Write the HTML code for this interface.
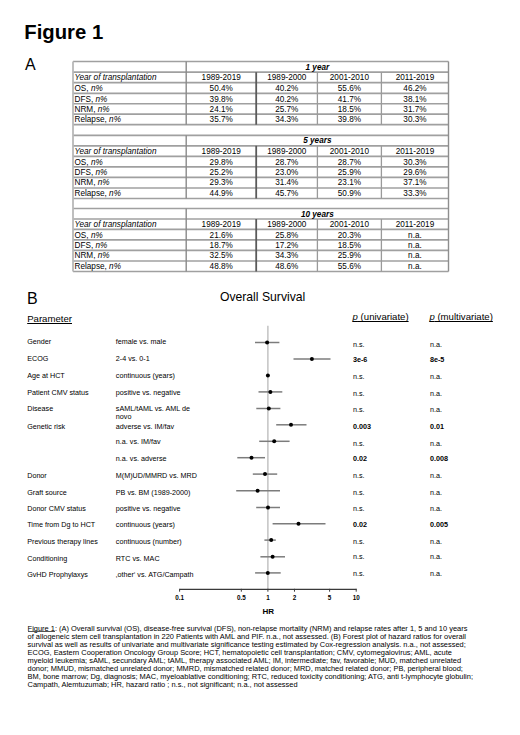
<!DOCTYPE html>
<html><head><meta charset="utf-8"><style>
html,body{margin:0;padding:0;background:#fff;}
body{width:520px;height:735px;position:relative;overflow:hidden;font-family:"Liberation Sans", sans-serif;color:#000;}
.t{position:absolute;white-space:nowrap;}
.t{text-decoration-skip-ink:none;}
</style></head><body>
<div class="t" style="left:24.30px;top:22.016px;font-size:20.3px;line-height:20.3px;font-weight:bold;">Figure 1</div>
<div class="t" style="left:25.00px;top:57.006px;font-size:16px;line-height:16px;">A</div>
<svg style="position:absolute;left:0;top:0" width="520" height="300" viewBox="0 0 520 300"><line x1="73.00" y1="61.50" x2="448.50" y2="61.50" stroke="#a0a0a0" stroke-width="1.7"/><line x1="73.00" y1="72.20" x2="448.50" y2="72.20" stroke="#a0a0a0" stroke-width="1.7"/><line x1="73.00" y1="82.70" x2="448.50" y2="82.70" stroke="#a0a0a0" stroke-width="1.7"/><line x1="73.00" y1="93.40" x2="448.50" y2="93.40" stroke="#a0a0a0" stroke-width="1.7"/><line x1="73.00" y1="103.75" x2="448.50" y2="103.75" stroke="#a0a0a0" stroke-width="1.7"/><line x1="73.00" y1="114.20" x2="448.50" y2="114.20" stroke="#a0a0a0" stroke-width="1.7"/><line x1="73.00" y1="124.70" x2="448.50" y2="124.70" stroke="#a0a0a0" stroke-width="1.7"/><line x1="73.00" y1="135.30" x2="448.50" y2="135.30" stroke="#a0a0a0" stroke-width="1.7"/><line x1="73.00" y1="145.80" x2="448.50" y2="145.80" stroke="#a0a0a0" stroke-width="1.7"/><line x1="73.00" y1="156.40" x2="448.50" y2="156.40" stroke="#a0a0a0" stroke-width="1.7"/><line x1="73.00" y1="166.90" x2="448.50" y2="166.90" stroke="#a0a0a0" stroke-width="1.7"/><line x1="73.00" y1="177.30" x2="448.50" y2="177.30" stroke="#a0a0a0" stroke-width="1.7"/><line x1="73.00" y1="188.00" x2="448.50" y2="188.00" stroke="#a0a0a0" stroke-width="1.7"/><line x1="73.00" y1="198.50" x2="448.50" y2="198.50" stroke="#a0a0a0" stroke-width="1.7"/><line x1="73.00" y1="208.50" x2="448.50" y2="208.50" stroke="#a0a0a0" stroke-width="1.7"/><line x1="73.00" y1="219.00" x2="448.50" y2="219.00" stroke="#a0a0a0" stroke-width="1.7"/><line x1="73.00" y1="229.40" x2="448.50" y2="229.40" stroke="#a0a0a0" stroke-width="1.7"/><line x1="73.00" y1="239.90" x2="448.50" y2="239.90" stroke="#a0a0a0" stroke-width="1.7"/><line x1="73.00" y1="250.30" x2="448.50" y2="250.30" stroke="#a0a0a0" stroke-width="1.7"/><line x1="73.00" y1="261.00" x2="448.50" y2="261.00" stroke="#a0a0a0" stroke-width="1.7"/><line x1="73.00" y1="271.50" x2="448.50" y2="271.50" stroke="#a0a0a0" stroke-width="1.7"/><line x1="73.00" y1="61.50" x2="73.00" y2="271.50" stroke="#b8b8b8" stroke-width="1.8"/><line x1="448.50" y1="61.50" x2="448.50" y2="271.50" stroke="#8e8e8e" stroke-width="1.4"/><line x1="186.20" y1="61.50" x2="186.20" y2="124.70" stroke="#8a8a8a" stroke-width="1.4"/><line x1="256.20" y1="72.20" x2="256.20" y2="124.70" stroke="#5a5a5a" stroke-width="1.8"/><line x1="317.40" y1="72.20" x2="317.40" y2="124.70" stroke="#9a9a9a" stroke-width="1.3"/><line x1="381.40" y1="72.20" x2="381.40" y2="124.70" stroke="#9a9a9a" stroke-width="1.3"/><line x1="186.20" y1="135.30" x2="186.20" y2="198.50" stroke="#8a8a8a" stroke-width="1.4"/><line x1="256.20" y1="145.80" x2="256.20" y2="198.50" stroke="#5a5a5a" stroke-width="1.8"/><line x1="317.40" y1="145.80" x2="317.40" y2="198.50" stroke="#9a9a9a" stroke-width="1.3"/><line x1="381.40" y1="145.80" x2="381.40" y2="198.50" stroke="#9a9a9a" stroke-width="1.3"/><line x1="186.20" y1="208.50" x2="186.20" y2="271.50" stroke="#8a8a8a" stroke-width="1.4"/><line x1="256.20" y1="219.00" x2="256.20" y2="271.50" stroke="#5a5a5a" stroke-width="1.8"/><line x1="317.40" y1="219.00" x2="317.40" y2="271.50" stroke="#9a9a9a" stroke-width="1.3"/><line x1="381.40" y1="219.00" x2="381.40" y2="271.50" stroke="#9a9a9a" stroke-width="1.3"/></svg>
<div class="t" style="left:217.35px;width:200px;text-align:center;top:64.009px;font-size:8.2px;line-height:8.2px;font-weight:bold;font-style:italic;">1 year</div>
<div class="t" style="left:74.50px;top:74.009px;font-size:8.2px;line-height:8.2px;font-style:italic;">Year of transplantation</div>
<div class="t" style="left:121.20px;width:200px;text-align:center;top:74.009px;font-size:8.2px;line-height:8.2px;">1989-2019</div>
<div class="t" style="left:186.80px;width:200px;text-align:center;top:74.009px;font-size:8.2px;line-height:8.2px;">1989-2000</div>
<div class="t" style="left:249.40px;width:200px;text-align:center;top:74.009px;font-size:8.2px;line-height:8.2px;">2001-2010</div>
<div class="t" style="left:314.95px;width:200px;text-align:center;top:74.009px;font-size:8.2px;line-height:8.2px;">2011-2019</div>
<div class="t" style="left:74.50px;top:85.009px;font-size:8.2px;line-height:8.2px;">OS, <i>n%</i></div>
<div class="t" style="left:121.20px;width:200px;text-align:center;top:85.009px;font-size:8.2px;line-height:8.2px;">50.4%</div>
<div class="t" style="left:186.80px;width:200px;text-align:center;top:85.009px;font-size:8.2px;line-height:8.2px;">40.2%</div>
<div class="t" style="left:249.40px;width:200px;text-align:center;top:85.009px;font-size:8.2px;line-height:8.2px;">55.6%</div>
<div class="t" style="left:314.95px;width:200px;text-align:center;top:85.009px;font-size:8.2px;line-height:8.2px;">46.2%</div>
<div class="t" style="left:74.50px;top:96.009px;font-size:8.2px;line-height:8.2px;">DFS, <i>n%</i></div>
<div class="t" style="left:121.20px;width:200px;text-align:center;top:96.009px;font-size:8.2px;line-height:8.2px;">39.8%</div>
<div class="t" style="left:186.80px;width:200px;text-align:center;top:96.009px;font-size:8.2px;line-height:8.2px;">40.2%</div>
<div class="t" style="left:249.40px;width:200px;text-align:center;top:96.009px;font-size:8.2px;line-height:8.2px;">41.7%</div>
<div class="t" style="left:314.95px;width:200px;text-align:center;top:96.009px;font-size:8.2px;line-height:8.2px;">38.1%</div>
<div class="t" style="left:74.50px;top:106.009px;font-size:8.2px;line-height:8.2px;">NRM, <i>n%</i></div>
<div class="t" style="left:121.20px;width:200px;text-align:center;top:106.009px;font-size:8.2px;line-height:8.2px;">24.1%</div>
<div class="t" style="left:186.80px;width:200px;text-align:center;top:106.009px;font-size:8.2px;line-height:8.2px;">25.7%</div>
<div class="t" style="left:249.40px;width:200px;text-align:center;top:106.009px;font-size:8.2px;line-height:8.2px;">18.5%</div>
<div class="t" style="left:314.95px;width:200px;text-align:center;top:106.009px;font-size:8.2px;line-height:8.2px;">31.7%</div>
<div class="t" style="left:74.50px;top:116.009px;font-size:8.2px;line-height:8.2px;">Relapse, <i>n%</i></div>
<div class="t" style="left:121.20px;width:200px;text-align:center;top:116.009px;font-size:8.2px;line-height:8.2px;">35.7%</div>
<div class="t" style="left:186.80px;width:200px;text-align:center;top:116.009px;font-size:8.2px;line-height:8.2px;">34.3%</div>
<div class="t" style="left:249.40px;width:200px;text-align:center;top:116.009px;font-size:8.2px;line-height:8.2px;">39.8%</div>
<div class="t" style="left:314.95px;width:200px;text-align:center;top:116.009px;font-size:8.2px;line-height:8.2px;">30.3%</div>
<div class="t" style="left:217.35px;width:200px;text-align:center;top:137.009px;font-size:8.2px;line-height:8.2px;font-weight:bold;font-style:italic;">5 years</div>
<div class="t" style="left:74.50px;top:148.009px;font-size:8.2px;line-height:8.2px;font-style:italic;">Year of transplantation</div>
<div class="t" style="left:121.20px;width:200px;text-align:center;top:148.009px;font-size:8.2px;line-height:8.2px;">1989-2019</div>
<div class="t" style="left:186.80px;width:200px;text-align:center;top:148.009px;font-size:8.2px;line-height:8.2px;">1989-2000</div>
<div class="t" style="left:249.40px;width:200px;text-align:center;top:148.009px;font-size:8.2px;line-height:8.2px;">2001-2010</div>
<div class="t" style="left:314.95px;width:200px;text-align:center;top:148.009px;font-size:8.2px;line-height:8.2px;">2011-2019</div>
<div class="t" style="left:74.50px;top:159.009px;font-size:8.2px;line-height:8.2px;">OS, <i>n%</i></div>
<div class="t" style="left:121.20px;width:200px;text-align:center;top:159.009px;font-size:8.2px;line-height:8.2px;">29.8%</div>
<div class="t" style="left:186.80px;width:200px;text-align:center;top:159.009px;font-size:8.2px;line-height:8.2px;">28.7%</div>
<div class="t" style="left:249.40px;width:200px;text-align:center;top:159.009px;font-size:8.2px;line-height:8.2px;">28.7%</div>
<div class="t" style="left:314.95px;width:200px;text-align:center;top:159.009px;font-size:8.2px;line-height:8.2px;">30.3%</div>
<div class="t" style="left:74.50px;top:169.009px;font-size:8.2px;line-height:8.2px;">DFS, <i>n%</i></div>
<div class="t" style="left:121.20px;width:200px;text-align:center;top:169.009px;font-size:8.2px;line-height:8.2px;">25.2%</div>
<div class="t" style="left:186.80px;width:200px;text-align:center;top:169.009px;font-size:8.2px;line-height:8.2px;">23.0%</div>
<div class="t" style="left:249.40px;width:200px;text-align:center;top:169.009px;font-size:8.2px;line-height:8.2px;">25.9%</div>
<div class="t" style="left:314.95px;width:200px;text-align:center;top:169.009px;font-size:8.2px;line-height:8.2px;">29.6%</div>
<div class="t" style="left:74.50px;top:179.009px;font-size:8.2px;line-height:8.2px;">NRM, <i>n%</i></div>
<div class="t" style="left:121.20px;width:200px;text-align:center;top:179.009px;font-size:8.2px;line-height:8.2px;">29.3%</div>
<div class="t" style="left:186.80px;width:200px;text-align:center;top:179.009px;font-size:8.2px;line-height:8.2px;">31.4%</div>
<div class="t" style="left:249.40px;width:200px;text-align:center;top:179.009px;font-size:8.2px;line-height:8.2px;">23.1%</div>
<div class="t" style="left:314.95px;width:200px;text-align:center;top:179.009px;font-size:8.2px;line-height:8.2px;">37.1%</div>
<div class="t" style="left:74.50px;top:190.009px;font-size:8.2px;line-height:8.2px;">Relapse, <i>n%</i></div>
<div class="t" style="left:121.20px;width:200px;text-align:center;top:190.009px;font-size:8.2px;line-height:8.2px;">44.9%</div>
<div class="t" style="left:186.80px;width:200px;text-align:center;top:190.009px;font-size:8.2px;line-height:8.2px;">45.7%</div>
<div class="t" style="left:249.40px;width:200px;text-align:center;top:190.009px;font-size:8.2px;line-height:8.2px;">50.9%</div>
<div class="t" style="left:314.95px;width:200px;text-align:center;top:190.009px;font-size:8.2px;line-height:8.2px;">33.3%</div>
<div class="t" style="left:217.35px;width:200px;text-align:center;top:211.009px;font-size:8.2px;line-height:8.2px;font-weight:bold;font-style:italic;">10 years</div>
<div class="t" style="left:74.50px;top:221.009px;font-size:8.2px;line-height:8.2px;font-style:italic;">Year of transplantation</div>
<div class="t" style="left:121.20px;width:200px;text-align:center;top:221.009px;font-size:8.2px;line-height:8.2px;">1989-2019</div>
<div class="t" style="left:186.80px;width:200px;text-align:center;top:221.009px;font-size:8.2px;line-height:8.2px;">1989-2000</div>
<div class="t" style="left:249.40px;width:200px;text-align:center;top:221.009px;font-size:8.2px;line-height:8.2px;">2001-2010</div>
<div class="t" style="left:314.95px;width:200px;text-align:center;top:221.009px;font-size:8.2px;line-height:8.2px;">2011-2019</div>
<div class="t" style="left:74.50px;top:232.009px;font-size:8.2px;line-height:8.2px;">OS, <i>n%</i></div>
<div class="t" style="left:121.20px;width:200px;text-align:center;top:232.009px;font-size:8.2px;line-height:8.2px;">21.6%</div>
<div class="t" style="left:186.80px;width:200px;text-align:center;top:232.009px;font-size:8.2px;line-height:8.2px;">25.8%</div>
<div class="t" style="left:249.40px;width:200px;text-align:center;top:232.009px;font-size:8.2px;line-height:8.2px;">20.3%</div>
<div class="t" style="left:314.95px;width:200px;text-align:center;top:232.009px;font-size:8.2px;line-height:8.2px;">n.a.</div>
<div class="t" style="left:74.50px;top:242.009px;font-size:8.2px;line-height:8.2px;">DFS, <i>n%</i></div>
<div class="t" style="left:121.20px;width:200px;text-align:center;top:242.009px;font-size:8.2px;line-height:8.2px;">18.7%</div>
<div class="t" style="left:186.80px;width:200px;text-align:center;top:242.009px;font-size:8.2px;line-height:8.2px;">17.2%</div>
<div class="t" style="left:249.40px;width:200px;text-align:center;top:242.009px;font-size:8.2px;line-height:8.2px;">18.5%</div>
<div class="t" style="left:314.95px;width:200px;text-align:center;top:242.009px;font-size:8.2px;line-height:8.2px;">n.a.</div>
<div class="t" style="left:74.50px;top:252.009px;font-size:8.2px;line-height:8.2px;">NRM, <i>n%</i></div>
<div class="t" style="left:121.20px;width:200px;text-align:center;top:252.009px;font-size:8.2px;line-height:8.2px;">32.5%</div>
<div class="t" style="left:186.80px;width:200px;text-align:center;top:252.009px;font-size:8.2px;line-height:8.2px;">34.3%</div>
<div class="t" style="left:249.40px;width:200px;text-align:center;top:252.009px;font-size:8.2px;line-height:8.2px;">25.9%</div>
<div class="t" style="left:314.95px;width:200px;text-align:center;top:252.009px;font-size:8.2px;line-height:8.2px;">n.a.</div>
<div class="t" style="left:74.50px;top:263.009px;font-size:8.2px;line-height:8.2px;">Relapse, <i>n%</i></div>
<div class="t" style="left:121.20px;width:200px;text-align:center;top:263.009px;font-size:8.2px;line-height:8.2px;">48.8%</div>
<div class="t" style="left:186.80px;width:200px;text-align:center;top:263.009px;font-size:8.2px;line-height:8.2px;">48.6%</div>
<div class="t" style="left:249.40px;width:200px;text-align:center;top:263.009px;font-size:8.2px;line-height:8.2px;">55.6%</div>
<div class="t" style="left:314.95px;width:200px;text-align:center;top:263.009px;font-size:8.2px;line-height:8.2px;">n.a.</div>
<div class="t" style="left:27.10px;top:291.006px;font-size:16px;line-height:16px;">B</div>
<div class="t" style="left:162.60px;width:200px;text-align:center;top:291.023px;font-size:12.2px;line-height:12.2px;">Overall Survival</div>
<div class="t" style="left:27.20px;top:314.024px;font-size:9.6px;line-height:9.6px;text-decoration:underline;">Parameter</div>
<div class="t" style="left:352.60px;top:312.024px;font-size:9.6px;line-height:9.6px;text-decoration:underline;"><i>p</i> (univariate)</div>
<div class="t" style="left:429.40px;top:312.024px;font-size:9.6px;line-height:9.6px;text-decoration:underline;"><i>p</i> (multivariate)</div>
<svg style="position:absolute;left:0;top:0" width="520" height="735" viewBox="0 0 520 735"><line x1="267.9" y1="325.8" x2="267.9" y2="589.4" stroke="#b4b4b4" stroke-width="1.2"/><line x1="255" y1="342.5" x2="279.4" y2="342.5" stroke="#7c7c7c" stroke-width="1.5"/><line x1="293.5" y1="359.1" x2="330.5" y2="359.1" stroke="#7c7c7c" stroke-width="1.5"/><line x1="258.5" y1="391.9" x2="282.3" y2="391.9" stroke="#7c7c7c" stroke-width="1.5"/><line x1="256.3" y1="408.5" x2="280.4" y2="408.5" stroke="#7c7c7c" stroke-width="1.5"/><line x1="276.2" y1="424.8" x2="306.5" y2="424.8" stroke="#7c7c7c" stroke-width="1.5"/><line x1="259.2" y1="441.3" x2="289.6" y2="441.3" stroke="#7c7c7c" stroke-width="1.5"/><line x1="237.3" y1="457.7" x2="265" y2="457.7" stroke="#7c7c7c" stroke-width="1.5"/><line x1="252.8" y1="474.1" x2="277.2" y2="474.1" stroke="#7c7c7c" stroke-width="1.5"/><line x1="236.2" y1="490.8" x2="280" y2="490.8" stroke="#7c7c7c" stroke-width="1.5"/><line x1="256.2" y1="507.5" x2="280" y2="507.5" stroke="#7c7c7c" stroke-width="1.5"/><line x1="272.6" y1="523.8" x2="325.5" y2="523.8" stroke="#7c7c7c" stroke-width="1.5"/><line x1="264.4" y1="540.1" x2="275.8" y2="540.1" stroke="#7c7c7c" stroke-width="1.5"/><line x1="260.4" y1="556.8" x2="285" y2="556.8" stroke="#7c7c7c" stroke-width="1.5"/><line x1="255.1" y1="572.9" x2="280.7" y2="572.9" stroke="#7c7c7c" stroke-width="1.5"/><circle cx="267.1" cy="342.5" r="2.0" fill="#000"/><circle cx="311.9" cy="359.1" r="2.0" fill="#000"/><circle cx="267.9" cy="375.6" r="2.0" fill="#000"/><circle cx="270.4" cy="391.9" r="2.0" fill="#000"/><circle cx="268.8" cy="408.5" r="2.0" fill="#000"/><circle cx="291" cy="424.8" r="2.0" fill="#000"/><circle cx="274.2" cy="441.3" r="2.0" fill="#000"/><circle cx="251.5" cy="457.7" r="2.0" fill="#000"/><circle cx="265" cy="474.1" r="2.0" fill="#000"/><circle cx="257.6" cy="490.8" r="2.0" fill="#000"/><circle cx="268" cy="507.5" r="2.0" fill="#000"/><circle cx="298.5" cy="523.8" r="2.0" fill="#000"/><circle cx="271.2" cy="540.1" r="2.0" fill="#000"/><circle cx="272.6" cy="556.8" r="2.0" fill="#000"/><circle cx="267.8" cy="572.9" r="2.0" fill="#000"/><line x1="179.6" y1="589.4" x2="356.6" y2="589.4" stroke="#3a3a3a" stroke-width="1.2"/><line x1="179.60" y1="588.8" x2="179.60" y2="591.6999999999999" stroke="#3a3a3a" stroke-width="1"/><line x1="241.32" y1="588.8" x2="241.32" y2="591.6999999999999" stroke="#3a3a3a" stroke-width="1"/><line x1="267.90" y1="588.8" x2="267.90" y2="591.6999999999999" stroke="#3a3a3a" stroke-width="1"/><line x1="294.48" y1="588.8" x2="294.48" y2="591.6999999999999" stroke="#3a3a3a" stroke-width="1"/><line x1="329.62" y1="588.8" x2="329.62" y2="591.6999999999999" stroke="#3a3a3a" stroke-width="1"/><line x1="356.20" y1="588.8" x2="356.20" y2="591.6999999999999" stroke="#3a3a3a" stroke-width="1"/></svg>
<div class="t" style="left:27.20px;top:338.005px;font-size:7.2px;line-height:7.2px;">Gender</div>
<div class="t" style="left:115.80px;top:338.005px;font-size:7.2px;line-height:7.2px;">female vs. male</div>
<div class="t" style="left:352.90px;top:341.005px;font-size:7.2px;line-height:7.2px;">n.s.</div>
<div class="t" style="left:429.90px;top:341.005px;font-size:7.2px;line-height:7.2px;">n.a.</div>
<div class="t" style="left:27.20px;top:355.005px;font-size:7.2px;line-height:7.2px;">ECOG</div>
<div class="t" style="left:115.80px;top:355.005px;font-size:7.2px;line-height:7.2px;">2-4 vs. 0-1</div>
<div class="t" style="left:352.90px;top:356.005px;font-size:7.2px;line-height:7.2px;"><b>3e-6</b></div>
<div class="t" style="left:429.90px;top:356.005px;font-size:7.2px;line-height:7.2px;"><b>8e-5</b></div>
<div class="t" style="left:27.20px;top:372.005px;font-size:7.2px;line-height:7.2px;">Age at HCT</div>
<div class="t" style="left:115.80px;top:372.005px;font-size:7.2px;line-height:7.2px;">continuous (years)</div>
<div class="t" style="left:352.90px;top:373.005px;font-size:7.2px;line-height:7.2px;">n.s.</div>
<div class="t" style="left:429.90px;top:373.005px;font-size:7.2px;line-height:7.2px;">n.a.</div>
<div class="t" style="left:27.20px;top:389.005px;font-size:7.2px;line-height:7.2px;">Patient CMV status</div>
<div class="t" style="left:115.80px;top:389.005px;font-size:7.2px;line-height:7.2px;">positive vs. negative</div>
<div class="t" style="left:352.90px;top:390.005px;font-size:7.2px;line-height:7.2px;">n.s.</div>
<div class="t" style="left:429.90px;top:390.005px;font-size:7.2px;line-height:7.2px;">n.a.</div>
<div class="t" style="left:27.20px;top:405.005px;font-size:7.2px;line-height:7.2px;">Disease</div>
<div class="t" style="left:115.80px;top:405.005px;font-size:7.2px;line-height:7.2px;">sAML/tAML vs. AML de</div>
<div class="t" style="left:352.90px;top:406.005px;font-size:7.2px;line-height:7.2px;">n.s.</div>
<div class="t" style="left:429.90px;top:406.005px;font-size:7.2px;line-height:7.2px;">n.a.</div>
<div class="t" style="left:115.80px;top:413.005px;font-size:7.2px;line-height:7.2px;">novo</div>
<div class="t" style="left:27.20px;top:423.005px;font-size:7.2px;line-height:7.2px;">Genetic risk</div>
<div class="t" style="left:115.80px;top:423.005px;font-size:7.2px;line-height:7.2px;">adverse vs. IM/fav</div>
<div class="t" style="left:352.90px;top:423.005px;font-size:7.2px;line-height:7.2px;"><b>0.003</b></div>
<div class="t" style="left:429.90px;top:423.005px;font-size:7.2px;line-height:7.2px;"><b>0.01</b></div>
<div class="t" style="left:115.80px;top:438.005px;font-size:7.2px;line-height:7.2px;">n.a. vs. IM/fav</div>
<div class="t" style="left:352.90px;top:440.005px;font-size:7.2px;line-height:7.2px;">n.s.</div>
<div class="t" style="left:429.90px;top:440.005px;font-size:7.2px;line-height:7.2px;">n.a.</div>
<div class="t" style="left:115.80px;top:455.005px;font-size:7.2px;line-height:7.2px;">n.a. vs. adverse</div>
<div class="t" style="left:352.90px;top:455.005px;font-size:7.2px;line-height:7.2px;"><b>0.02</b></div>
<div class="t" style="left:429.90px;top:455.005px;font-size:7.2px;line-height:7.2px;"><b>0.008</b></div>
<div class="t" style="left:27.20px;top:472.005px;font-size:7.2px;line-height:7.2px;">Donor</div>
<div class="t" style="left:115.80px;top:472.005px;font-size:7.2px;line-height:7.2px;">M(M)UD/MMRD vs. MRD</div>
<div class="t" style="left:352.90px;top:472.005px;font-size:7.2px;line-height:7.2px;">n.s.</div>
<div class="t" style="left:429.90px;top:472.005px;font-size:7.2px;line-height:7.2px;">n.a.</div>
<div class="t" style="left:27.20px;top:489.005px;font-size:7.2px;line-height:7.2px;">Graft source</div>
<div class="t" style="left:115.80px;top:489.005px;font-size:7.2px;line-height:7.2px;">PB vs. BM (1989-2000)</div>
<div class="t" style="left:352.90px;top:489.005px;font-size:7.2px;line-height:7.2px;">n.s.</div>
<div class="t" style="left:429.90px;top:489.005px;font-size:7.2px;line-height:7.2px;">n.a.</div>
<div class="t" style="left:27.20px;top:505.005px;font-size:7.2px;line-height:7.2px;">Donor CMV status</div>
<div class="t" style="left:115.80px;top:505.005px;font-size:7.2px;line-height:7.2px;">positive vs. negative</div>
<div class="t" style="left:352.90px;top:505.005px;font-size:7.2px;line-height:7.2px;">n.s.</div>
<div class="t" style="left:429.90px;top:505.005px;font-size:7.2px;line-height:7.2px;">n.a.</div>
<div class="t" style="left:27.20px;top:521.005px;font-size:7.2px;line-height:7.2px;">Time from Dg to HCT</div>
<div class="t" style="left:115.80px;top:521.005px;font-size:7.2px;line-height:7.2px;">continuous (years)</div>
<div class="t" style="left:352.90px;top:521.005px;font-size:7.2px;line-height:7.2px;"><b>0.02</b></div>
<div class="t" style="left:429.90px;top:521.005px;font-size:7.2px;line-height:7.2px;"><b>0.005</b></div>
<div class="t" style="left:27.20px;top:538.005px;font-size:7.2px;line-height:7.2px;">Previous therapy lines</div>
<div class="t" style="left:115.80px;top:538.005px;font-size:7.2px;line-height:7.2px;">continuous (number)</div>
<div class="t" style="left:352.90px;top:538.005px;font-size:7.2px;line-height:7.2px;">n.s.</div>
<div class="t" style="left:429.90px;top:538.005px;font-size:7.2px;line-height:7.2px;">n.a.</div>
<div class="t" style="left:27.20px;top:555.005px;font-size:7.2px;line-height:7.2px;">Conditioning</div>
<div class="t" style="left:115.80px;top:555.005px;font-size:7.2px;line-height:7.2px;">RTC vs. MAC</div>
<div class="t" style="left:352.90px;top:553.005px;font-size:7.2px;line-height:7.2px;">n.s.</div>
<div class="t" style="left:429.90px;top:553.005px;font-size:7.2px;line-height:7.2px;">n.a.</div>
<div class="t" style="left:27.20px;top:571.005px;font-size:7.2px;line-height:7.2px;">GvHD Prophylaxys</div>
<div class="t" style="left:115.80px;top:571.005px;font-size:7.2px;line-height:7.2px;">‚other‘ vs. ATG/Campath</div>
<div class="t" style="left:352.90px;top:570.005px;font-size:7.2px;line-height:7.2px;">n.s.</div>
<div class="t" style="left:429.90px;top:570.005px;font-size:7.2px;line-height:7.2px;">n.a.</div>
<div class="t" style="left:79.60px;width:200px;text-align:center;top:595.017px;font-size:6.3px;line-height:6.3px;font-weight:bold;">0.1</div>
<div class="t" style="left:141.32px;width:200px;text-align:center;top:595.017px;font-size:6.3px;line-height:6.3px;font-weight:bold;">0.5</div>
<div class="t" style="left:167.90px;width:200px;text-align:center;top:595.017px;font-size:6.3px;line-height:6.3px;font-weight:bold;">1</div>
<div class="t" style="left:194.48px;width:200px;text-align:center;top:595.017px;font-size:6.3px;line-height:6.3px;font-weight:bold;">2</div>
<div class="t" style="left:229.62px;width:200px;text-align:center;top:595.017px;font-size:6.3px;line-height:6.3px;font-weight:bold;">5</div>
<div class="t" style="left:256.20px;width:200px;text-align:center;top:595.017px;font-size:6.3px;line-height:6.3px;font-weight:bold;">10</div>
<div class="t" style="left:168.20px;width:200px;text-align:center;top:608.028px;font-size:8px;line-height:8px;font-weight:bold;">HR</div>
<div class="t" style="left:27.60px;top:625.044px;font-size:7.45px;line-height:7.45px;">Figure 1: (A) Overall survival (OS), disease-free survival (DFS), non-relapse mortality (NRM) and relapse rates after 1, 5 and 10 years</div>
<div class="t" style="left:27.60px;top:633.044px;font-size:7.45px;line-height:7.45px;">of allogeneic stem cell transplantation in 220 Patients with AML and PIF. n.a., not assessed. (B) Forest plot of hazard ratios for overall</div>
<div class="t" style="left:27.60px;top:641.044px;font-size:7.45px;line-height:7.45px;">survival as well as results of univariate and multivariate significance testing estimated by Cox-regression analysis. n.a., not assessed;</div>
<div class="t" style="left:27.60px;top:649.044px;font-size:7.45px;line-height:7.45px;">ECOG, Eastern Cooperation Oncology Group Score; HCT, hematopoietic cell transplantation; CMV, cytomegalovirus; AML, acute</div>
<div class="t" style="left:27.60px;top:657.044px;font-size:7.45px;line-height:7.45px;">myeloid leukemia; sAML, secundary AML; tAML, therapy associated AML; IM, intermediate; fav, favorable; MUD, matched unrelated</div>
<div class="t" style="left:27.60px;top:665.044px;font-size:7.45px;line-height:7.45px;">donor; MMUD, mismatched unrelated donor; MMRD, mismatched related donor; MRD, matched related donor; PB, peripheral blood;</div>
<div class="t" style="left:27.60px;top:673.044px;font-size:7.45px;line-height:7.45px;">BM, bone marrow; Dg, diagnosis; MAC, myeloablative conditioning; RTC, reduced toxicity conditioning; ATG, anti t-lymphocyte globulin;</div>
<div class="t" style="left:27.60px;top:681.044px;font-size:7.45px;line-height:7.45px;">Campath, Alemtuzumab; HR, hazard ratio ; n.s., not significant; n.a., not assessed</div>
<div style="position:absolute;left:28.2px;top:630.9px;width:27.2px;height:0.9px;background:#555"></div>
</body></html>
